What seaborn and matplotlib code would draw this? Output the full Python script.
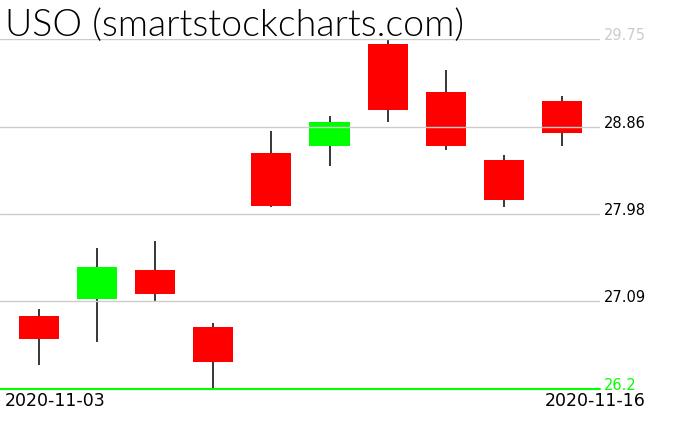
import matplotlib
matplotlib.use("Agg")
import matplotlib.pyplot as plt
import seaborn as sns
import pandas as pd

# daily candles
dates = ["2020-11-03", "2020-11-04", "2020-11-05", "2020-11-06", "2020-11-09",
         "2020-11-10", "2020-11-11", "2020-11-12", "2020-11-13", "2020-11-16"]
opens = [26.94, 27.11, 27.41, 26.83, 28.59, 28.66, 29.70, 29.21, 28.52, 29.12]
highs = [27.01, 27.63, 27.70, 26.87, 28.82, 28.97, 29.74, 29.44, 28.57, 29.17]
lows = [26.44, 26.68, 27.08, 26.20, 28.05, 28.46, 28.91, 28.62, 28.05, 28.66]
closes = [26.71, 27.44, 27.16, 26.47, 28.06, 28.91, 29.03, 28.66, 28.12, 28.80]
grid_levels = [29.75, 28.86, 27.98, 27.09, 26.2]
grid_labels = ["29.75", "28.86", "27.98", "27.09", "26.2"]
label_colors = ["#cccccc", "black", "black", "black", "#00ff00"]

df = pd.DataFrame({"date": dates, "open": opens, "high": highs,
                   "low": lows, "close": closes})
df["x"] = range(len(df))
df["up"] = df["close"] >= df["open"]

sns.set_style("white")
plt.rcParams["font.family"] = ["DejaVu Sans"]

fig = plt.figure(figsize=(6.76, 4.31), dpi=100)
W, H = 676, 431
ax = fig.add_axes([0, (H - 390) / H, 600 / W, 350 / H])

# wicks behind bodies
ax.vlines(df["x"], df["low"], df["high"], color="black", lw=1.1, zorder=1)
colors = ["#00ff00" if u else "#ff0000" for u in df["up"]]
bottoms = df[["open", "close"]].min(axis=1)
heights = (df["open"] - df["close"]).abs()
ax.bar(df["x"], heights, bottom=bottoms, width=0.69, color=colors,
       edgecolor="none", zorder=2)

# gridlines drawn over the candles
for lvl in grid_levels[:-1]:
    ax.axhline(lvl, color="#cccccc", lw=1, zorder=3)
ax.axhline(grid_levels[-1], color="#00ff00", lw=1.5, zorder=3, clip_on=False)

ax.set_xlim(-39 / 58.1, (600 - 39) / 58.1)
ax.set_ylim(grid_levels[-1], grid_levels[0])
ax.set_xticks([])
ax.set_yticks([])
for s in ax.spines.values():
    s.set_visible(False)

for lvl, lab, c in zip(grid_levels, grid_labels, label_colors):
    ax.text(1.007, lvl, lab, transform=ax.get_yaxis_transform(), color=c,
            fontsize=10.5, ha="left", va="baseline", clip_on=False)

fig.text(5 / W, 1 - 406 / H, dates[0], fontsize=12.5, ha="left",
         va="baseline", color="black")
fig.text(646 / W, 1 - 406 / H, dates[-1], fontsize=12.5, ha="right",
         va="baseline", color="black")

# thin title like the original
fig.text(5 / W, 1 - 36 / H, "USO (smartstockcharts.com)", fontsize=27,
         family=["Lato", "DejaVu Sans"], fontweight=300,
         ha="left", va="baseline", color="black")

fig.savefig("out.png", dpi=100)
